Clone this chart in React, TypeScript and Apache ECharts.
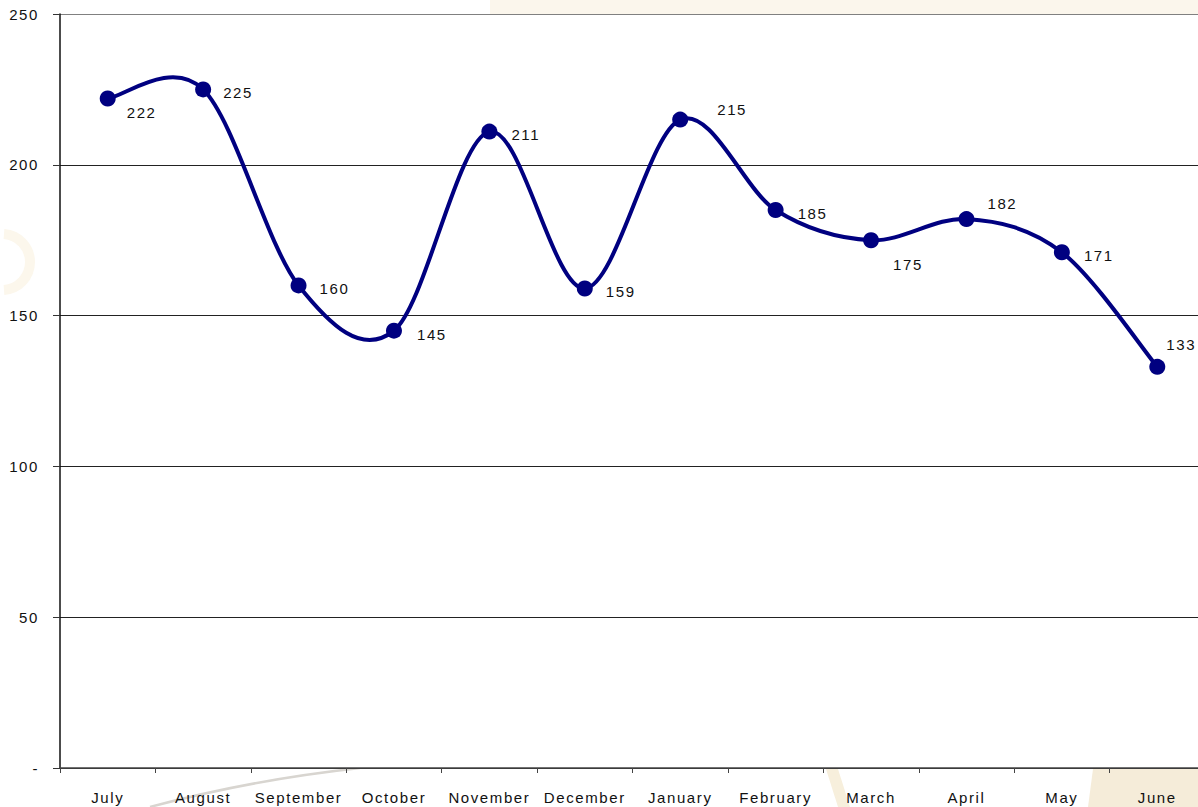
import React, { useEffect, useRef } from "react";
import * as echarts from "echarts";

const months = [
  "July", "August", "September", "October", "November", "December",
  "January", "February", "March", "April", "May", "June",
];
const values = [222, 225, 160, 145, 211, 159, 215, 185, 175, 182, 171, 133];
// label offsets (px) from the right side of each marker
const labelOffsets: [number, number][] = [
  [11, 14], [12, 3], [13, 3], [15, 4], [14, 3], [13, 3],
  [29, -10], [14, 3], [14, 24], [13, -16], [14, 3], [1, -22],
];
const yMin = 0;
const yMax = 250;
const yStep = 50;

const NAVY = "#000080";
const FONT = "'Liberation Sans', Arial, sans-serif";

// One cubic segment of a Catmull-Rom style smoothed line (tension 1/6)
function renderSegment(params: any, api: any) {
  const i = params.dataIndex;
  const n = values.length;
  if (i >= n - 1) return null;
  const pt = (k: number) => {
    const j = Math.max(0, Math.min(n - 1, k));
    return api.coord([j, values[j]]);
  };
  const p0 = pt(i - 1);
  const p1 = pt(i);
  const p2 = pt(i + 1);
  const p3 = pt(i + 2);
  return {
    type: "bezierCurve",
    shape: {
      x1: p1[0],
      y1: p1[1],
      x2: p2[0],
      y2: p2[1],
      cpx1: p1[0] + (p2[0] - p0[0]) / 6,
      cpy1: p1[1] + (p2[1] - p0[1]) / 6,
      cpx2: p2[0] - (p3[0] - p1[0]) / 6,
      cpy2: p2[1] - (p3[1] - p1[1]) / 6,
    },
    style: { stroke: NAVY, lineWidth: 4, fill: "none", lineCap: "round" },
  };
}

export default function App() {
  const ref = useRef<HTMLDivElement>(null);

  useEffect(() => {
    if (!ref.current) return;
    const el = ref.current;
    const chart = echarts.init(el, null, { renderer: "svg" });
    const spaceText = () => {
      el.querySelectorAll("text").forEach((t) => t.setAttribute("letter-spacing", "1.6"));
    };
    chart.setOption({
      animation: false,
      backgroundColor: "#ffffff",
      graphic: [
        // faint beige backdrop around the plot frame
        { type: "rect", z: -10, silent: true, shape: { x: 490, y: 0, width: 708, height: 14 }, style: { fill: "#fbf6ec" } },
        { type: "polygon", z: -10, silent: true, shape: { points: [[1093, 769], [1198, 769], [1198, 807], [1088, 807]] }, style: { fill: "#f5ecd9" } },
        { type: "polygon", z: -10, silent: true, shape: { points: [[826, 769], [838, 769], [850, 807], [838, 807]] }, style: { fill: "#f7efdc" } },
        { type: "bezierCurve", z: -10, silent: true, shape: { x1: 150, y1: 807, x2: 360, y2: 768, cpx1: 250, cpy1: 780 }, style: { stroke: "#d8d5d0", lineWidth: 2.5, fill: "none" } },
        { type: "arc", z: -10, silent: true, shape: { cx: 2, cy: 262, r: 28, startAngle: -1.5, endAngle: 1.5 }, style: { stroke: "#fcf7ec", lineWidth: 10, fill: "none" } },
      ],
      grid: {
        left: 60,
        top: 14,
        width: 1145,
        height: 754,
        outerBoundsMode: "none",
        containLabel: false,
        show: true,
        backgroundColor: "#ffffff",
        borderWidth: 0,
      },
      xAxis: {
        type: "category",
        data: months,
        boundaryGap: true,
        axisLine: { show: true, lineStyle: { color: "#444444", width: 1.5 } },
        axisTick: { show: true, length: 5, interval: 0, lineStyle: { color: "#444444" } },
        axisLabel: { color: "#111111", fontSize: 15, fontFamily: FONT, margin: 22, interval: 0 },
        splitLine: { show: false },
      },
      yAxis: {
        type: "value",
        min: yMin,
        max: yMax,
        interval: yStep,
        axisLine: { show: true, lineStyle: { color: "#111111", width: 1.5 } },
        axisTick: { show: true, length: 7, lineStyle: { color: "#333333" } },
        axisLabel: {
          color: "#111111",
          fontSize: 15,
          fontFamily: FONT,
          margin: 21,
          formatter: (v: number) => (v === 0 ? "-" : String(v)),
        },
        splitLine: {
          show: true,
          lineStyle: {
            color: ["#222222", "#222222", "#222222", "#222222", "#222222", "#808080"],
            width: 1,
          },
        },
      },
      series: [
        {
          type: "custom",
          renderItem: renderSegment,
          data: values.map((v, i) => [i, v]),
          encode: { x: 0, y: 1 },
          z: 2,
          silent: true,
        },
        {
          type: "line",
          data: values.map((v, i) => ({
            value: v,
            label: { offset: labelOffsets[i] },
          })),
          z: 3,
          symbol: "circle",
          symbolSize: 16,
          lineStyle: { opacity: 0 },
          itemStyle: { color: NAVY },
          label: {
            show: true,
            position: "right",
            distance: 0,
            color: "#111111",
            fontSize: 15,
            fontFamily: FONT,
          },
        },
      ],
    });
    spaceText();
    chart.on("finished", spaceText);
    return () => chart.dispose();
  }, []);

  return (
    <div
      ref={ref}
      style={{ position: "fixed", left: 0, top: 0, width: 1198, height: 807 }}
    />
  );
}
